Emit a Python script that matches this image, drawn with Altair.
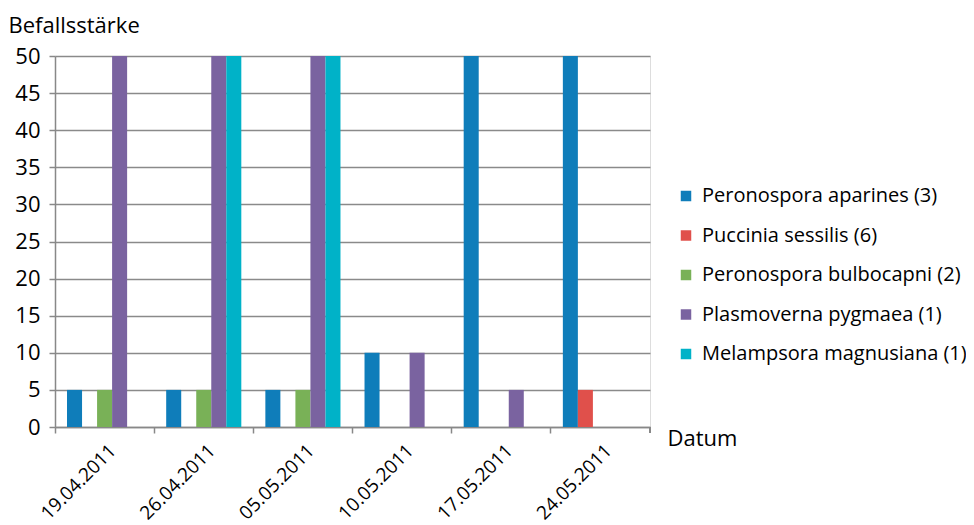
import altair as alt
import pandas as pd

dates = ["19.04.2011", "26.04.2011", "05.05.2011", "10.05.2011", "17.05.2011", "24.05.2011"]
series = [
    "Peronospora aparines (3)",
    "Puccinia sessilis (6)",
    "Peronospora bulbocapni (2)",
    "Plasmoverna pygmaea (1)",
    "Melampsora magnusiana (1)",
]
colors = ["#0f7dba", "#e0504b", "#79b157", "#7a63a0", "#00b2c8"]

aparines = [5, 5, 5, 10, 50, 50]
sessilis = [0, 0, 0, 0, 0, 5]
bulbocapni = [5, 5, 5, 0, 0, 0]
pygmaea = [50, 50, 50, 10, 5, 0]
magnusiana = [0, 50, 50, 0, 0, 0]

values = [aparines, sessilis, bulbocapni, pygmaea, magnusiana]
rows = []
for s, vals in zip(series, values):
    for d, v in zip(dates, vals):
        if v > 0:
            rows.append({"Datum": d, "Art": s, "Wert": v})
df = pd.DataFrame(rows)

FONT = "Open Sans"
W, H = 595, 371

bars = alt.Chart(df).mark_bar().encode(
    x=alt.X(
        "Datum:N",
        sort=dates,
        scale=alt.Scale(paddingInner=0, paddingOuter=0),
        axis=alt.Axis(
            title="Datum",
            titleX=W + 17,
            titleY=11,
            titleAlign="left",
            titleBaseline="middle",
            titleFontSize=22,
            titleFontWeight="normal",
            titleFont=FONT,
            titleColor="#000000",
            bandPosition=0,
            labelAngle=-45,
            labelAlign="right",
            labelBaseline="top",
            labelOffset=2,
            labelPadding=8,
            labelFontSize=19,
            labelFont=FONT,
            labelColor="#000000",
            tickSize=6,
            tickColor="#888888",
            tickWidth=1.5,
            domainColor="#888888",
            domainWidth=1.5,
            grid=False,
        ),
    ),
    xOffset=alt.XOffset(
        "Art:N",
        sort=series,
        scale=alt.Scale(domain=series, paddingInner=0, paddingOuter=0.8),
    ),
    y=alt.Y(
        "Wert:Q",
        scale=alt.Scale(domain=[0, 50], nice=False),
        axis=alt.Axis(
            title="Befallsstärke",
            titleAngle=0,
            titleX=-47,
            titleY=-31,
            titleAlign="left",
            titleBaseline="middle",
            titleFontSize=22,
            titleFontWeight="normal",
            titleFont=FONT,
            titleColor="#000000",
            values=list(range(0, 51, 5)),
            labelFontSize=22,
            labelFont=FONT,
            labelColor="#000000",
            labelPadding=9,
            tickSize=6,
            tickColor="#888888",
            tickWidth=1.5,
            domainColor="#888888",
            domainWidth=1.5,
            grid=True,
            gridColor="#8a8a8a",
            gridWidth=1.5,
        ),
    ),
    color=alt.Color(
        "Art:N",
        scale=alt.Scale(domain=series, range=colors),
        legend=alt.Legend(
            title=None,
            orient="none",
            legendX=W + 26,
            legendY=130,
            symbolType="square",
            symbolSize=110,
            symbolStrokeWidth=0,
            labelFontSize=20,
            labelFont=FONT,
            labelColor="#000000",
            labelLimit=0,
            rowPadding=19.5,
            labelOffset=6,
        ),
    ),
)

end_tick = alt.Chart(df).mark_rule(color="#888888", strokeWidth=1.5).encode(
    x=alt.value(W), y=alt.value(H), y2=alt.value(H + 6)
)

chart = alt.layer(bars, end_tick).properties(
    width=W,
    height=H,
    autosize=alt.AutoSizeParams(type="none"),
    padding={"left": 47, "top": 48, "right": 316, "bottom": 130},
).configure_view(stroke=None).configure(background="white")

chart.save("out.html", embed_options={"renderer": "svg", "actions": False})
